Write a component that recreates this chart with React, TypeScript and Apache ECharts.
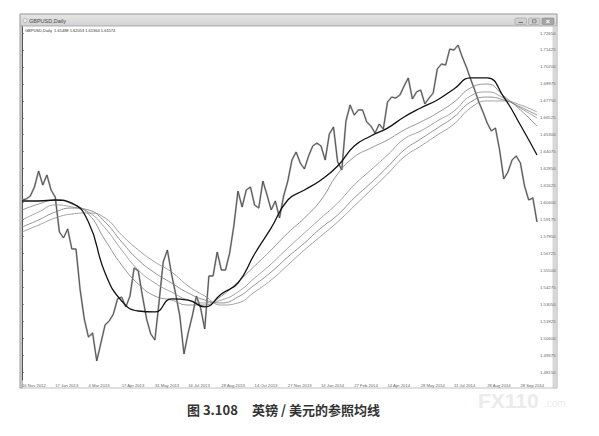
import React, { useEffect, useRef } from "react";
import * as echarts from "echarts";

// Daily price path (one value per step on the time axis)
const PRICE = [
  1.6058, 1.6065, 1.6087, 1.6152, 1.6268, 1.6166, 1.6239, 1.6130, 1.6080, 1.5827,
  1.5784, 1.5849, 1.5704, 1.5704, 1.5408, 1.5198, 1.5068, 1.5097, 1.4895, 1.5025,
  1.5155, 1.5184, 1.5234, 1.5343, 1.5357, 1.5285, 1.5364, 1.5567, 1.5545, 1.5364,
  1.5198, 1.5090, 1.5046, 1.5321, 1.5610, 1.5697, 1.5523, 1.5379, 1.5220, 1.4945,
  1.5097, 1.5220, 1.5364, 1.5278, 1.5126, 1.5509, 1.5509, 1.5682, 1.5552, 1.5552,
  1.5675, 1.5870, 1.6123, 1.6007, 1.6130, 1.6152, 1.6022, 1.6000, 1.6195, 1.6094,
  1.5986, 1.6051, 1.5928, 1.6087, 1.6195, 1.6347, 1.6405, 1.6326, 1.6282, 1.6376,
  1.6448, 1.6470, 1.6448, 1.6347, 1.6535, 1.6586, 1.6333, 1.6275, 1.6629, 1.6745,
  1.6672, 1.6709, 1.6709, 1.6622, 1.6593, 1.6542, 1.6607, 1.6571, 1.6766, 1.6802,
  1.6795, 1.6817, 1.6882, 1.6940, 1.6788, 1.6839, 1.6853, 1.6752, 1.6795, 1.6831,
  1.7005, 1.7041, 1.7034, 1.7149, 1.7142, 1.7178, 1.7092, 1.7019, 1.6933, 1.6853,
  1.6766, 1.6694, 1.6615, 1.6557, 1.6578, 1.6419, 1.6210, 1.6260, 1.6347, 1.6376,
  1.6326, 1.6159, 1.6058, 1.6073, 1.5899,
];

// Moving averages, read every 4th step
const MA_STEP = 4;
const MA_FAST = [
  1.6051, 1.6051, 1.6058, 1.6036, 1.5899, 1.5531, 1.5328, 1.5256, 1.5249, 1.5343,
  1.5335, 1.5285, 1.5379, 1.5458, 1.5668, 1.5856, 1.6058, 1.6130, 1.6203, 1.6304,
  1.6448, 1.6521, 1.6578, 1.6658, 1.6723, 1.6781, 1.6860, 1.6940, 1.6940, 1.6802,
  1.6600, 1.6383,
];
const MA_1 = [
  1.5986, 1.6029, 1.6058, 1.6029, 1.5957, 1.5769, 1.5588, 1.5451, 1.5364, 1.5335,
  1.5299, 1.5299, 1.5364, 1.5466, 1.5581, 1.5697, 1.5820, 1.5928, 1.6058, 1.6246,
  1.6369, 1.6434, 1.6492, 1.6564, 1.6622, 1.6687, 1.6766, 1.6868, 1.6896, 1.6810,
  1.6709, 1.6593,
];
const MA_2 = [
  1.5914, 1.5971, 1.6022, 1.6008, 1.5971, 1.5856, 1.5697, 1.5552, 1.5458, 1.5393,
  1.5335, 1.5314, 1.5335, 1.5393, 1.5494, 1.5596, 1.5711, 1.5820, 1.5928, 1.6036,
  1.6167, 1.6275, 1.6383, 1.6499, 1.6557, 1.6629, 1.6701, 1.6810, 1.6839, 1.6795,
  1.6723, 1.6651,
];
const MA_3 = [
  1.5863, 1.5914, 1.5971, 1.6000, 1.5986, 1.5899, 1.5755, 1.5625, 1.5531, 1.5458,
  1.5386, 1.5335, 1.5314, 1.5357, 1.5444, 1.5538, 1.5646, 1.5747, 1.5856, 1.5950,
  1.6073, 1.6181, 1.6297, 1.6419, 1.6499, 1.6578, 1.6658, 1.6766, 1.6802, 1.6781,
  1.6730, 1.6672,
];
const MA_4 = [
  1.5827, 1.5877, 1.5928, 1.5957, 1.5964, 1.5928, 1.5805, 1.5697, 1.5610, 1.5538,
  1.5437, 1.5364, 1.5299, 1.5314, 1.5393, 1.5480, 1.5588, 1.5697, 1.5798, 1.5899,
  1.6015, 1.6130, 1.6246, 1.6369, 1.6448, 1.6528, 1.6607, 1.6723, 1.6774, 1.6774,
  1.6745, 1.6694,
];

// Axis tick labels
const DATE_STEP = 8;
const DATE_LABELS = [
  "16 Nov 2012", "17 Jan 2013", "4 Mar 2013", "17 Apr 2013", "31 May 2013",
  "16 Jul 2013", "28 Aug 2013", "14 Oct 2013", "27 Nov 2013", "14 Jan 2014",
  "27 Feb 2014", "14 Apr 2014", "28 May 2014", "11 Jul 2014", "28 Aug 2014",
  "28 Sep 2014",
];
const PRICE_LABELS = [
  1.7265, 1.71425, 1.702, 1.68975, 1.6775, 1.66525, 1.653, 1.64075, 1.6285,
  1.61625, 1.604, 1.59175, 1.5795, 1.56725, 1.555, 1.54275, 1.5305, 1.51825,
  1.506, 1.49375, 1.4815,
];

const FONT = "'Liberation Sans', 'DejaVu Sans', sans-serif";
const CJK = "'Noto Sans CJK SC', sans-serif";

export default function App() {
  const ref = useRef<HTMLDivElement>(null);
  useEffect(() => {
    if (!ref.current) return;
    const chart = echarts.init(ref.current, undefined, { renderer: "svg" });
    const maData = (arr: number[]) => arr.map((v, j) => [j * MA_STEP, v]);
    const priceData = PRICE.map((v, i) => [i, v]);
    const dateTicks = DATE_LABELS.map((_, k) => k * DATE_STEP);
    const thin = (data: number[][], color: string) => ({
      type: "line",
      data,
      showSymbol: false,
      smooth: 0.5,
      lineStyle: { color, width: 0.8 },
      z: 3,
    });
    chart.setOption({
      animation: false,
      backgroundColor: "#ffffff",
      grid: { left: 22, right: 62, top: 27, bottom: 56, containLabel: false },
      xAxis: {
        type: "value",
        min: 0,
        max: PRICE.length - 1,
        axisLine: { show: false },
        axisTick: { show: false },
        splitLine: { show: false },
        axisLabel: {
          customValues: dateTicks,
          formatter: (v: number) => DATE_LABELS[Math.round(v / DATE_STEP)] ?? "",
          align: "left",
          fontSize: 4.2,
          color: "#666",
          margin: 3,
          fontFamily: FONT,
        },
      },
      yAxis: {
        type: "value",
        position: "right",
        min: 1.47572,
        max: 1.73084,
        splitLine: { show: false },
        axisLine: { show: true, lineStyle: { color: "#555", width: 1 } },
        axisTick: {
          show: true,
          customValues: PRICE_LABELS,
          length: 2,
          lineStyle: { color: "#555", width: 0.6 },
        },
        axisLabel: {
          customValues: PRICE_LABELS,
          formatter: (v: number) => v.toFixed(5),
          fontSize: 4.3,
          color: "#666",
          margin: 3,
          fontFamily: FONT,
        },
      },
      series: [
        {
          type: "line",
          data: priceData,
          showSymbol: false,
          lineStyle: { color: "#b4b4b4", width: 1.9 },
          z: 1,
        },
        {
          type: "line",
          data: priceData,
          showSymbol: false,
          lineStyle: { color: "#3c3c3c", width: 0.8 },
          z: 2,
        },
        thin(maData(MA_1), "#7a7a7a"),
        thin(maData(MA_2), "#8c8c8c"),
        thin(maData(MA_3), "#777777"),
        thin(maData(MA_4), "#8a8a8a"),
        {
          type: "line",
          data: maData(MA_FAST),
          showSymbol: false,
          smooth: 0.5,
          lineStyle: { color: "#111111", width: 1.3 },
          z: 4,
        },
      ],
      graphic: [
        // window frame
        {
          type: "rect",
          shape: { x: 20, y: 14, width: 537, height: 12 },
          style: {
            fill: new echarts.graphic.LinearGradient(0, 0, 0, 1, [
              { offset: 0, color: "#e6e6e6" },
              { offset: 1, color: "#d2d2d2" },
            ]),
            stroke: "#a0a0a0",
            lineWidth: 0.8,
          },
        },
        {
          type: "rect",
          shape: { x: 20, y: 14, width: 537, height: 374 },
          style: { fill: "none", stroke: "#b0b0b0", lineWidth: 0.8 },
        },
        {
          type: "rect",
          shape: { x: 20, y: 26, width: 2.5, height: 362 },
          style: { fill: "#c4c4c4", stroke: "#9a9a9a", lineWidth: 0.5 },
        },
        {
          type: "rect",
          shape: { x: 553, y: 26, width: 4, height: 362 },
          style: { fill: "#dadada", stroke: "#b8b8b8", lineWidth: 0.5 },
        },
        {
          type: "circle",
          shape: { cx: 25, cy: 20.5, r: 2 },
          style: { fill: "#eee", stroke: "#999", lineWidth: 0.6 },
        },
        {
          type: "text",
          left: 29,
          top: 17.5,
          style: { text: "GBPUSD,Daily", fontSize: 5.5, fill: "#444", fontFamily: FONT },
        },
        {
          type: "text",
          left: 25,
          top: 28.5,
          style: {
            text: "GBPUSD,Daily  1.61488 1.62053 1.61364 1.61574",
            fontSize: 4,
            fill: "#333",
            fontFamily: FONT,
          },
        },
        // window buttons
        {
          type: "rect",
          shape: { x: 515, y: 18, width: 11.5, height: 6.5, r: 1 },
          style: { fill: "#cfcfcf", stroke: "#9a9a9a", lineWidth: 0.5 },
        },
        {
          type: "rect",
          shape: { x: 528.5, y: 18, width: 11.5, height: 6.5, r: 1 },
          style: { fill: "#cfcfcf", stroke: "#9a9a9a", lineWidth: 0.5 },
        },
        {
          type: "rect",
          shape: { x: 542, y: 18, width: 12, height: 6.5, r: 1 },
          style: { fill: "#a6a6a6", stroke: "#808080", lineWidth: 0.5 },
        },
        {
          type: "line",
          shape: { x1: 518.5, y1: 22.5, x2: 523, y2: 22.5 },
          style: { stroke: "#555", lineWidth: 0.8 },
        },
        {
          type: "rect",
          shape: { x: 532.5, y: 19.8, width: 3.5, height: 3 },
          style: { fill: "none", stroke: "#555", lineWidth: 0.6 },
        },
        {
          type: "text",
          left: 545.8,
          top: 17.6,
          style: { text: "×", fontSize: 7, fill: "#fff", fontFamily: FONT, fontWeight: "bold" },
        },
        // watermark
        {
          type: "text",
          left: 478,
          top: 390,
          style: {
            text: "FX110",
            fontSize: 21,
            fontWeight: "bold",
            fill: "#ebebeb",
            fontFamily: FONT,
          },
        },
        {
          type: "text",
          left: 544,
          top: 398,
          style: { text: ".com", fontSize: 10, fill: "#ebebeb", fontFamily: FONT },
        },
        // caption
        {
          type: "text",
          left: 187,
          top: 403,
          style: {
            text: "图 3.108",
            fontSize: 13,
            fontWeight: "bold",
            fill: "#333",
            fontFamily: CJK,
          },
        },
        {
          type: "text",
          left: 252,
          top: 403,
          style: {
            text: "英镑 / 美元的参照均线",
            fontSize: 13,
            fontWeight: "bold",
            fill: "#333",
            fontFamily: CJK,
          },
        },
      ],
    });
    return () => chart.dispose();
  }, []);
  return (
    <div
      ref={ref}
      style={{ position: "absolute", left: 0, top: 0, width: 599, height: 436 }}
    />
  );
}
